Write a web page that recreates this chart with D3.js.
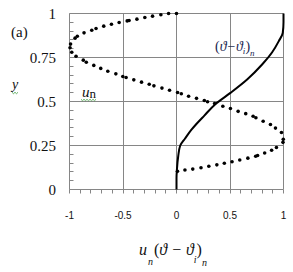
<!DOCTYPE html>
<html><head><meta charset="utf-8">
<script src="https://cdn.jsdelivr.net/npm/d3@7"></script>
<style>html,body{margin:0;padding:0;background:#fff;}svg{display:block;}</style>
</head><body>
<svg id="c" width="293" height="272"></svg>
<script>
// ---- data ----
const xTicks = [-1, -0.5, 0, 0.5, 1];
const xTickLabels = ["-1", "-0.5", "0", "0.5", "1"];
const yTicks = [0, 0.25, 0.5, 0.75, 1];
const yTickLabels = ["0", "0.25", "0.5", "0.75", "1"];
// dotted series u_n : [u, y]
const unSeries = [
 [0.009,0.103],[0.079,0.111],[0.152,0.116],[0.229,0.124],[0.302,0.132],[0.377,0.140],[0.447,0.149],[0.519,0.158],
 [0.591,0.168],[0.667,0.178],[0.740,0.189],[0.758,0.193],[0.824,0.207],[0.889,0.223],[0.934,0.239],[0.995,0.268],
 [0.998,0.285],[0.981,0.324],[0.925,0.349],[0.878,0.369],[0.810,0.388],[0.742,0.408],[0.716,0.416],[0.647,0.431],
 [0.576,0.444],[0.504,0.460],[0.433,0.473],[0.356,0.489],[0.290,0.499],[0.260,0.506],[0.187,0.518],[0.113,0.530],
 [0.045,0.544],[0.010,0.551],[-0.065,0.564],[-0.136,0.576],[-0.211,0.589],[-0.255,0.598],[-0.327,0.610],[-0.399,0.623],
 [-0.471,0.636],[-0.502,0.642],[-0.567,0.657],[-0.642,0.672],[-0.708,0.688],[-0.773,0.705],[-0.843,0.723],[-0.871,0.735],
 [-0.939,0.757],[-0.979,0.780],[-0.995,0.805],[-0.990,0.826],[-0.948,0.860],[-0.927,0.871],[-0.864,0.890],[-0.792,0.905],
 [-0.752,0.915],[-0.680,0.928],[-0.608,0.939],[-0.536,0.949],[-0.461,0.958],[-0.443,0.960],[-0.370,0.968],[-0.296,0.977],
 [-0.224,0.985],[-0.146,0.993],[-0.074,1.0],[0.0,1.0]
];
// solid series (theta - theta_i)_n : [value, y]
const thetaSeries = [
 [0,0],[0,0.064],[0.004,0.114],[0.016,0.189],[0.035,0.25],[0.08,0.29],[0.14,0.34],[0.19,0.375],[0.26,0.42],
 [0.363,0.485],[0.504,0.549],[0.660,0.625],[0.800,0.710],[0.894,0.780],[0.956,0.843],[0.993,0.890],[1.0,0.95],[1.0,1.0]
];

// ---- drawing ----
const svg = d3.select("#c");
const x = d3.scaleLinear().domain([-1, 1]).range([69.5, 283.5]);
const y = d3.scaleLinear().domain([0, 1]).range([189.5, 13.5]);
const crisp = v => Math.floor(v) + 0.5;
const gridColor = "#868686";

// gridlines (vertical)
svg.append("g").selectAll("line").data(xTicks).join("line")
  .attr("x1", d => crisp(x(d))).attr("x2", d => crisp(x(d)))
  .attr("y1", y(0)).attr("y2", y(1))
  .attr("stroke", gridColor).attr("stroke-width", 1);
// gridlines (horizontal)
svg.append("g").selectAll("line").data(yTicks).join("line")
  .attr("y1", d => crisp(y(d))).attr("y2", d => crisp(y(d)))
  .attr("x1", crisp(x(-1))).attr("x2", crisp(x(1)))
  .attr("stroke", gridColor).attr("stroke-width", 1);

// minor ticks x (downwards)
const xMinor = d3.range(-10, 11).map(i => i / 10);
svg.append("g").selectAll("line").data(xMinor).join("line")
  .attr("x1", d => crisp(x(d))).attr("x2", d => crisp(x(d)))
  .attr("y1", y(0)).attr("y2", y(0) + 4)
  .attr("stroke", gridColor);
// minor ticks y (inside, to the right)
const yMinor = d3.range(0, 21).map(i => i / 20);
svg.append("g").selectAll("line").data(yMinor).join("line")
  .attr("y1", d => crisp(y(d))).attr("y2", d => crisp(y(d)))
  .attr("x1", crisp(x(-1))).attr("x2", crisp(x(-1)) + 4)
  .attr("stroke", gridColor);

// y tick labels
svg.append("g").selectAll("text").data(yTicks).join("text")
  .attr("x", 56).attr("y", d => y(d) + 5)
  .attr("text-anchor", "end")
  .attr("font-family", "Liberation Serif, serif").attr("font-size", 15)
  .attr("fill", "#111")
  .text((d, i) => yTickLabels[i]);
// x tick labels
svg.append("g").selectAll("text").data(xTicks).join("text")
  .attr("x", d => x(d)).attr("y", 218.5)
  .attr("text-anchor", "middle")
  .attr("font-family", "Liberation Sans, Arial, sans-serif").attr("font-size", 10)
  .attr("fill", "#111")
  .text((d, i) => xTickLabels[i]);

// solid line
svg.append("path").datum(thetaSeries)
  .attr("d", d3.line().x(d => x(d[0])).y(d => y(d[1])).curve(d3.curveMonotoneY))
  .attr("fill", "none").attr("stroke", "#000").attr("stroke-width", 2);

// dots
svg.append("g").selectAll("circle").data(unSeries).join("circle")
  .attr("cx", d => x(d[0])).attr("cy", d => y(d[1])).attr("r", 1.8)
  .attr("fill", "#000");

// labels
const serif = "Liberation Serif, Times New Roman, serif";
svg.append("text").attr("x", 11).attr("y", 37)
  .attr("font-family", serif).attr("font-size", 15).attr("fill", "#111").text("(a)");

svg.append("text").attr("x", 12).attr("y", 89)
  .attr("font-family", serif).attr("font-size", 14).attr("font-style", "italic").attr("fill", "#111").text("y");

const unLab = svg.append("text").attr("x", 82).attr("y", 97)
  .attr("font-family", serif).attr("font-size", 15).attr("fill", "#111");
unLab.append("tspan").attr("font-style", "italic").text("u");
unLab.append("tspan").attr("font-size", 13).attr("dy", 1).text("n");

// squiggles (spell check marks)
function squiggle(x0, x1, yy) {
  const pts = [];
  for (let xx = x0, k = 0; xx <= x1; xx += 1.5, k++) pts.push([xx, yy + (k % 2 ? 1.2 : -0.2)]);
  svg.append("path").attr("d", d3.line()(pts)).attr("fill", "none")
    .attr("stroke", "#3c9a3c").attr("stroke-width", 0.8);
}
squiggle(12, 18, 92.5);
squiggle(81, 96, 99.5);

// label (theta - theta_i)_n inside plot
const th = svg.append("text").attr("x", 215).attr("y", 51)
  .attr("font-family", serif).attr("font-size", 14).attr("fill", "#1a2550");
th.append("tspan").text("(");
th.append("tspan").attr("font-style", "italic").text("\u03D1\u2212\u03D1");
th.append("tspan").attr("font-style", "italic").attr("font-size", 9).attr("dy", 3).text("i");
th.append("tspan").attr("dy", -3).text(")");
th.append("tspan").attr("font-style", "italic").attr("font-size", 9).attr("dy", 5).text("n");

// x axis title
const tt = svg.append("text").attr("x", 139).attr("y", 255)
  .attr("font-family", serif).attr("font-size", 16).attr("fill", "#111");
tt.append("tspan").attr("font-style", "italic").text("u");
tt.append("tspan").attr("font-style", "italic").attr("font-size", 10).attr("dx", 1).attr("dy", 10).text("n");
tt.append("tspan").attr("dx", 1).attr("dy", -10).text("(");
tt.append("tspan").attr("font-style", "italic").text("\u03D1 \u2212 \u03D1");
tt.append("tspan").attr("font-style", "italic").attr("font-size", 10).attr("dy", 8).text("i");
tt.append("tspan").attr("dy", -8).text(")");
tt.append("tspan").attr("font-style", "italic").attr("font-size", 10).attr("dy", 11).text("n");
</script>
</body></html>
